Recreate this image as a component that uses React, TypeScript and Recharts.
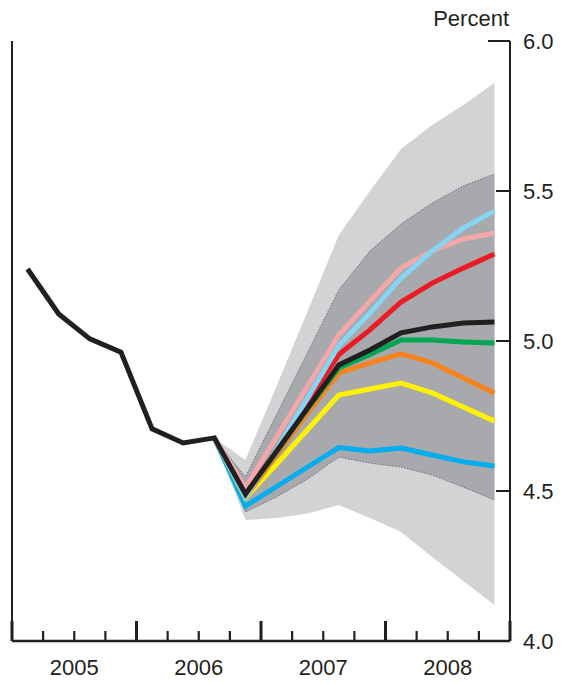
import React from 'react'
import { ComposedChart, Area, Line, XAxis, YAxis } from 'recharts'

// quarters 2005Q1 .. 2008Q4
const quarters = [
  '2005Q1', '2005Q2', '2005Q3', '2005Q4',
  '2006Q1', '2006Q2', '2006Q3', '2006Q4',
  '2007Q1', '2007Q2', '2007Q3', '2007Q4',
  '2008Q1', '2008Q2', '2008Q3', '2008Q4'
]
const years = ['2005', '2006', '2007', '2008']
const yTicks = [4.0, 4.5, 5.0, 5.5, 6.0]

// history + baseline projection
const baseline = [5.24, 5.09, 5.007, 4.963, 4.707, 4.66, 4.677, 4.49, 4.633, 4.777, 4.92, 4.97, 5.027, 5.047, 5.06, 5.063]

// alternative scenarios, from 2006Q3 on
const projStart = 6
const pink = [4.677, 4.51, 4.68, 4.85, 5.02, 5.133, 5.243, 5.3, 5.34, 5.36]
const lightBlue = [4.677, 4.48, 4.64, 4.81, 4.985, 5.093, 5.21, 5.3, 5.377, 5.433]
const red = [4.677, 4.485, 4.64, 4.8, 4.955, 5.037, 5.13, 5.193, 5.243, 5.29]
const green = [4.677, 4.49, 4.63, 4.775, 4.91, 4.955, 5.003, 5.003, 4.997, 4.993]
const orange = [4.677, 4.48, 4.62, 4.76, 4.893, 4.927, 4.957, 4.927, 4.877, 4.827]
const yellow = [4.677, 4.477, 4.59, 4.705, 4.82, 4.84, 4.86, 4.827, 4.78, 4.733]
const blue = [4.677, 4.45, 4.515, 4.58, 4.645, 4.633, 4.643, 4.62, 4.597, 4.583]

// confidence bands
const outerHi = [4.677, 4.603, 4.85, 5.1, 5.353, 5.5, 5.64, 5.72, 5.787, 5.86]
const innerHi = [4.677, 4.547, 4.755, 4.962, 5.17, 5.3, 5.39, 5.46, 5.517, 5.557]
const innerLo = [4.677, 4.43, 4.48, 4.54, 4.613, 4.593, 4.58, 4.553, 4.513, 4.47]
const outerLo = [4.677, 4.403, 4.41, 4.425, 4.453, 4.41, 4.363, 4.28, 4.2, 4.12]

const INK = '#231f20'
const FONT = '"Liberation Sans", Arial, Helvetica, sans-serif'

const proj = (arr: number[], i: number) => (i >= projStart ? arr[i - projStart] : null)

const data = quarters.map((name, i) => ({
  q: i,
  name,
  baseline: baseline[i],
  pink: proj(pink, i),
  lightBlue: proj(lightBlue, i),
  red: proj(red, i),
  green: proj(green, i),
  orange: proj(orange, i),
  yellow: proj(yellow, i),
  blue: proj(blue, i),
  outer: i >= projStart ? [outerLo[i - projStart], outerHi[i - projStart]] : null,
  inner: i >= projStart ? [innerLo[i - projStart], innerHi[i - projStart]] : null
}))

// quarter boundaries
const xTicks = Array.from({ length: quarters.length + 1 }, (_, k) => k - 0.5)

const XTick = (props: any) => {
  const { x, y, payload } = props
  const k = Math.round(payload.value + 0.5)
  const major = k % 4 === 0
  const label = k % 4 === 2 ? years[(k - 2) / 4] : null
  return (
    <g>
      <line x1={x} x2={x} y1={y} y2={y - (major ? 20 : 10)} stroke={INK} strokeWidth={major ? 3 : 2.2} />
      {label && (
        <text x={x} y={y + 26} textAnchor="middle" dominantBaseline="central"
          fontSize={22} fontFamily={FONT} fill={INK}>{label}</text>
      )}
    </g>
  )
}

const RightTick = (props: any) => {
  const { x, y, payload } = props
  const v = payload.value
  return (
    <g>
      {v > 4 && <line x1={x} x2={x - (v === 6 ? 22 : 14)} y1={y} y2={y} stroke={INK} strokeWidth={2} />}
      <text x={x + 13} y={y} dy="0.36em" textAnchor="start" fontSize={22} fontFamily={FONT} fill={INK}>
        {v.toFixed(1)}
      </text>
      {v === 6 && (
        <text x={x - 1} y={y - 15} textAnchor="end" fontSize={22} fontFamily={FONT} fill={INK}>Percent</text>
      )}
    </g>
  )
}

const LeftTick = (props: any) => {
  const { x, y, payload } = props
  if (payload.value <= 4) return <g />
  return <line x1={x} x2={x + 5} y1={y} y2={y} stroke={INK} strokeWidth={1.5} />
}

const lineProps = {
  yAxisId: 'right',
  type: 'linear' as const,
  dot: false,
  activeDot: false,
  strokeWidth: 5,
  isAnimationActive: false
}

export default function App() {
  return (
    <div style={{ position: 'absolute', left: 0, top: 0, width: 567, height: 683, background: '#fff' }}>
      <ComposedChart width={567} height={683} data={data}
        margin={{ top: 41, right: 0, bottom: 0, left: 0 }}>
        <XAxis dataKey="q" type="number" domain={[-0.5, 15.5]} ticks={xTicks} interval={0}
          height={42} tickSize={0} tickMargin={0} tickLine={false}
          axisLine={{ stroke: INK, strokeWidth: 2.5 }} tick={<XTick />} />
        <YAxis yAxisId="left" orientation="left" width={12} domain={[4, 6]} ticks={yTicks}
          tickSize={0} tickMargin={0} tickLine={false}
          axisLine={{ stroke: INK, strokeWidth: 2 }} tick={<LeftTick />} />
        <YAxis yAxisId="right" orientation="right" width={57} domain={[4, 6]} ticks={yTicks}
          tickSize={0} tickMargin={0} tickLine={false}
          axisLine={{ stroke: INK, strokeWidth: 2 }} tick={<RightTick />} />

        <Area yAxisId="right" dataKey="outer" type="linear" fill="#d1d3d4" fillOpacity={1}
          stroke="none" isAnimationActive={false} activeDot={false} />
        <Area yAxisId="right" dataKey="inner" type="linear" fill="#a7a9ac" fillOpacity={1}
          stroke="#6d6e71" strokeWidth={1} strokeDasharray="1.5 1.5" isAnimationActive={false} activeDot={false} />

        <Line {...lineProps} dataKey="blue" stroke="#00aeef" />
        <Line {...lineProps} dataKey="yellow" stroke="#fff200" />
        <Line {...lineProps} dataKey="orange" stroke="#f7821e" />
        <Line {...lineProps} dataKey="green" stroke="#00a651" />
        <Line {...lineProps} dataKey="red" stroke="#ed1c24" />
        <Line {...lineProps} dataKey="pink" stroke="#f4a7a9" />
        <Line {...lineProps} dataKey="lightBlue" stroke="#87d4f5" />
        <Line {...lineProps} dataKey="baseline" stroke={INK} />
      </ComposedChart>
    </div>
  )
}
